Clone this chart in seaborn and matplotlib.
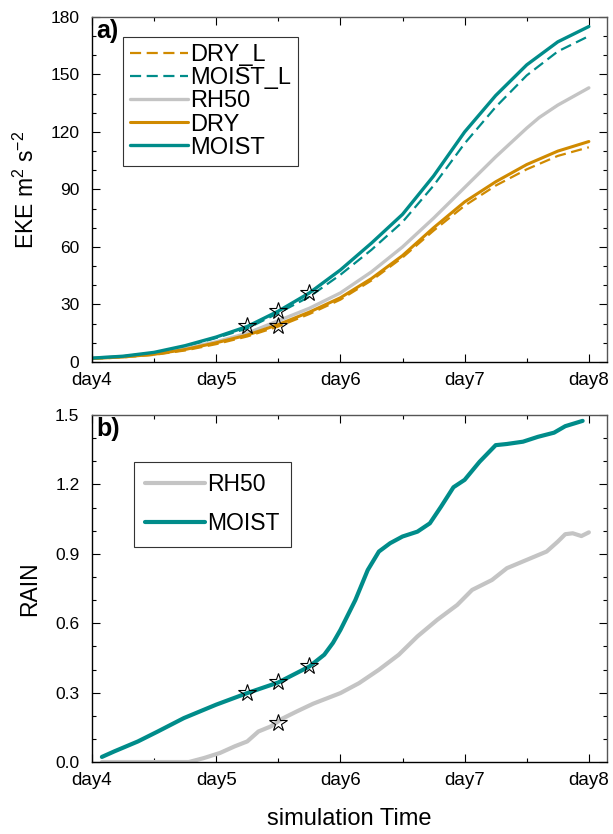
import numpy as np
import pandas as pd
import matplotlib
matplotlib.use("Agg")
import matplotlib.pyplot as plt
import seaborn as sns
from matplotlib.ticker import MultipleLocator, FixedLocator

# ---------------- data ----------------
days_eke = [4.0, 4.25, 4.5, 4.75, 5.0, 5.25, 5.5, 5.75, 6.0, 6.25, 6.5, 6.75, 7.0, 7.25, 7.5, 7.75, 8.0]
eke_moist   = [2.0, 3.0, 5.0, 8.5, 13.0, 18.5, 26.5, 36.0, 48.0, 62.0, 77.0, 97.0, 120.0, 139.0, 155.0, 167.0, 175.0]
eke_moist_l = [2.0, 3.0, 4.8, 8.0, 12.5, 17.5, 25.5, 34.0, 45.5, 58.5, 73.0, 92.0, 114.0, 133.0, 149.5, 162.0, 170.0]
eke_dry     = [1.8, 2.6, 4.0, 6.5, 10.0, 14.0, 19.5, 26.0, 33.5, 43.5, 55.5, 70.0, 83.5, 94.0, 103.0, 110.0, 115.0]
eke_dry_l   = [1.6, 2.4, 3.7, 6.0, 9.3, 13.3, 18.5, 25.0, 32.5, 42.5, 54.5, 68.5, 81.5, 92.0, 100.5, 107.5, 112.0]
days_rh50_eke = [4.0, 4.25, 4.5, 4.75, 5.0, 5.25, 5.5, 5.75, 6.0, 6.25, 6.5, 6.75, 7.0, 7.25, 7.5, 7.6, 7.75, 8.0]
eke_rh50      = [2.0, 2.8, 4.3, 7.0, 10.5, 15.0, 21.5, 28.0, 36.0, 47.0, 60.0, 75.0, 91.0, 107.0, 122.0, 127.5, 134.0, 143.0]

days_rain_moist = [4.08, 4.18, 4.37, 4.53, 4.74, 5.0, 5.25, 5.5, 5.75, 5.87, 5.94, 6.0, 6.12, 6.22, 6.31, 6.4, 6.5,
                   6.62, 6.72, 6.81, 6.91, 7.0, 7.12, 7.25, 7.34, 7.47, 7.59, 7.72, 7.81, 7.95]
rain_moist = [0.022, 0.046, 0.089, 0.132, 0.19, 0.248, 0.298, 0.344, 0.413, 0.464, 0.515, 0.571, 0.70, 0.83, 0.91, 0.946, 0.975,
              0.996, 1.032, 1.104, 1.188, 1.22, 1.298, 1.37, 1.375, 1.385, 1.406, 1.424, 1.452, 1.475]
days_rain_rh50 = [4.08, 4.5, 4.78, 4.9, 5.03, 5.15, 5.25, 5.34, 5.44, 5.53, 5.65, 5.78, 6.0, 6.15, 6.31, 6.47,
                  6.62, 6.78, 6.94, 7.06, 7.22, 7.34, 7.5, 7.66, 7.75, 7.81, 7.87, 7.94, 8.0]
rain_rh50 = [0.0, 0.0, 0.0, 0.017, 0.039, 0.068, 0.089, 0.132, 0.154, 0.187, 0.219, 0.252, 0.298, 0.341, 0.399, 0.464,
             0.543, 0.615, 0.679, 0.744, 0.787, 0.838, 0.874, 0.91, 0.953, 0.985, 0.989, 0.977, 0.993]

star_eke_x = [5.25, 5.5, 5.75, 5.5]
star_eke_y = [18.5, 26.5, 36.0, 19.0]
star_rain_x = [5.25, 5.5, 5.75, 5.5]
star_rain_y = [0.298, 0.345, 0.415, 0.17]

xtick_vals = [4, 5, 6, 7, 8]
xtick_labels = ["day4", "day5", "day6", "day7", "day8"]

# ---------------- style ----------------
sns.set_theme(style="ticks")
plt.rcParams["font.family"] = ["Liberation Sans", "DejaVu Sans"]
plt.rcParams["mathtext.fontset"] = "custom"
plt.rcParams["mathtext.rm"] = "Liberation Sans"
plt.rcParams["mathtext.it"] = "Liberation Sans"
plt.rcParams["text.color"] = "black"
plt.rcParams["axes.labelcolor"] = "black"
plt.rcParams["xtick.color"] = "black"
plt.rcParams["ytick.color"] = "black"

TEAL = "#008c8a"
ORANGE = "#d08a00"
GRAY = "#c4c4c4"

fig = plt.figure(figsize=(6.13, 8.34), dpi=100)
ax1 = fig.add_axes([0.150, 0.566, 0.840, 0.4137])
ax2 = fig.add_axes([0.150, 0.0863, 0.840, 0.416])

# ---- panel a ----
sns.lineplot(x=days_eke, y=eke_dry_l, ax=ax1, color=ORANGE, lw=1.6, label="DRY_L")
ax1.lines[-1].set_dashes([5, 2.5])
sns.lineplot(x=days_eke, y=eke_moist_l, ax=ax1, color=TEAL, lw=1.6, label="MOIST_L")
ax1.lines[-1].set_dashes([5, 2.5])
sns.lineplot(x=days_rh50_eke, y=eke_rh50, ax=ax1, color=GRAY, lw=2.4, label="RH50")
sns.lineplot(x=days_eke, y=eke_dry, ax=ax1, color=ORANGE, lw=2.2, label="DRY")
sns.lineplot(x=days_eke, y=eke_moist, ax=ax1, color=TEAL, lw=2.4, label="MOIST")
ax1.plot(star_eke_x, star_eke_y, ls="none", marker="*", ms=13, mfc="none", mec="black", mew=0.8, zorder=5)

# ---- panel b ----
sns.lineplot(x=days_rain_rh50, y=rain_rh50, ax=ax2, color=GRAY, lw=3.0, label="RH50")
sns.lineplot(x=days_rain_moist, y=rain_moist, ax=ax2, color=TEAL, lw=3.0, label="MOIST")
ax2.plot(star_rain_x, star_rain_y, ls="none", marker="*", ms=13, mfc="none", mec="black", mew=0.8, zorder=5)

for ax in (ax1, ax2):
    ax.set_xlim(4.0, 8.145)
    ax.xaxis.set_major_locator(FixedLocator(xtick_vals))
    ax.set_xticklabels(xtick_labels)
    ax.xaxis.set_minor_locator(MultipleLocator(0.5))
    ax.tick_params(which="both", direction="in", top=True, right=True, width=0.8, color="black")
    ax.tick_params(axis="x", which="major", labelsize=13.5, pad=7, labelcolor="black")
    ax.tick_params(axis="y", which="major", labelsize=12.5, pad=9, labelcolor="black")
    ax.tick_params(which="major", length=6)
    ax.tick_params(which="minor", length=3)
    for s in ax.spines.values():
        s.set_linewidth(1.0)
        s.set_color("black")
    ax.spines["top"].set_color("#555555")
    ax.spines["right"].set_color("#555555")

ax1.set_ylim(0, 180)
ax1.yaxis.set_major_locator(MultipleLocator(30))
ax1.yaxis.set_minor_locator(MultipleLocator(10))
ax1.set_ylabel("EKE m$^2$ s$^{-2}$", fontsize=16.5, labelpad=8, color="black")
ax1.set_xlabel("")
ax1.text(0.008, 0.995, "a)", transform=ax1.transAxes, fontsize=18, fontweight="bold", va="top", ha="left",
         color="black")

ax2.set_ylim(0, 1.5)
ax2.yaxis.set_major_locator(MultipleLocator(0.3))
ax2.yaxis.set_minor_locator(MultipleLocator(0.1))
ax2.yaxis.set_major_formatter(matplotlib.ticker.FormatStrFormatter("%.1f"))
ax2.set_ylabel("RAIN", fontsize=16.5, labelpad=10, color="black")
ax2.set_xlabel("simulation Time", fontsize=17, labelpad=14, color="black")
ax2.text(0.008, 0.995, "b)", transform=ax2.transAxes, fontsize=18, fontweight="bold", va="top", ha="left",
         color="black")

leg1 = ax1.legend(loc="upper left", bbox_to_anchor=(0.060, 0.942), fontsize=17, frameon=True, fancybox=False,
                  framealpha=1, edgecolor="#333333", handlelength=2.45, handletextpad=0.1,
                  labelspacing=0.05, borderpad=0.3, borderaxespad=0)
leg1.get_frame().set_linewidth(0.8)
leg2 = ax2.legend(loc="upper left", bbox_to_anchor=(0.0816, 0.865), fontsize=16.5, frameon=True, fancybox=False,
                  framealpha=1, edgecolor="#333333", handlelength=2.6, handletextpad=0.1,
                  labelspacing=0.7, borderpad=0.5, borderaxespad=0)
leg2.get_frame().set_linewidth(0.8)
for leg in (leg1, leg2):
    for t in leg.get_texts():
        t.set_color("black")

fig.savefig("out.png", dpi=100)
